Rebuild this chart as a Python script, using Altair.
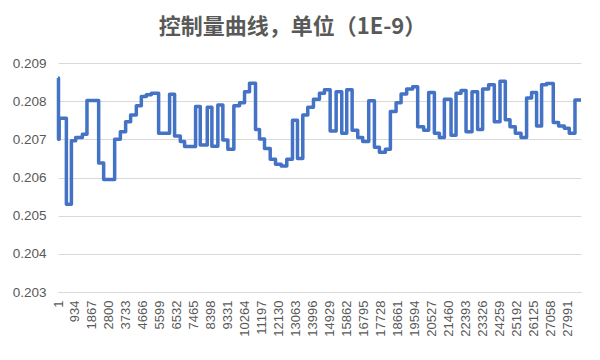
import altair as alt
import pandas as pd

# Step start index and level of each step
step_start = [1, 28, 67, 462, 737, 973, 1341, 1593, 2235, 2510,
              3114, 3427, 3718, 3992, 4305, 4580, 4854, 5129, 5530, 6133,
              6408, 6721, 6957, 7561, 7819, 8203, 8456, 8785, 9060, 9334,
              9664, 9976, 10251, 10525, 10855, 11074, 11349, 11662, 11953, 12266,
              12573, 12886, 13161, 13452, 13726, 14039, 14368, 14643, 14956, 15285,
              15593, 15867, 16164, 16471, 16745, 17075, 17388, 17662, 17992, 18266,
              18579, 18854, 19161, 19491, 19765, 20095, 20370, 20683, 20957, 21232,
              21599, 21874, 22148, 22423, 22752, 23059, 23334, 23664, 23977, 24290,
              24581, 24839, 25130, 25443, 25750, 26025, 26300, 26575, 26850, 27217,
              27508, 27821, 28096, 28409]
step_value = [0.20861, 0.20700, 0.20755, 0.20530, 0.20696, 0.20705, 0.20713, 0.20802, 0.20638, 0.20595,
              0.20700, 0.20720, 0.20746, 0.20764, 0.20788, 0.20812, 0.20817, 0.20821, 0.20716, 0.20818,
              0.20709, 0.20694, 0.20681, 0.20786, 0.20685, 0.20784, 0.20682, 0.20790, 0.20698, 0.20674,
              0.20788, 0.20796, 0.20825, 0.20847, 0.20726, 0.20701, 0.20676, 0.20648, 0.20635, 0.20630,
              0.20648, 0.20750, 0.20650, 0.20764, 0.20784, 0.20805, 0.20821, 0.20830, 0.20722, 0.20825,
              0.20716, 0.20830, 0.20724, 0.20705, 0.20694, 0.20801, 0.20679, 0.20666, 0.20674, 0.20773,
              0.20796, 0.20819, 0.20832, 0.20838, 0.20733, 0.20724, 0.20823, 0.20716, 0.20705, 0.20805,
              0.20711, 0.20821, 0.20828, 0.20720, 0.20825, 0.20726, 0.20832, 0.20843, 0.20746, 0.20852,
              0.20751, 0.20733, 0.20716, 0.20705, 0.20808, 0.20823, 0.20735, 0.20843, 0.20846, 0.20744,
              0.20735, 0.20729, 0.20716, 0.20803]
last_index = 28740
x_tick_labels = [1, 934, 1867, 2800, 3733, 4666, 5599, 6532, 7465, 8398, 9331,
                 10264, 11197, 12130, 13063, 13996, 14929, 15862, 16795, 17728,
                 18661, 19594, 20527, 21460, 22393, 23326, 24259, 25192, 26125,
                 27058, 27991]
y_ticks = [0.203, 0.204, 0.205, 0.206, 0.207, 0.208, 0.209]

df = pd.DataFrame({
    "idx": step_start + [last_index],
    "val": step_value + [step_value[-1]],
})

grey = "#595959"
label_font = "Liberation Sans"

chart = alt.Chart(df).mark_line(
    interpolate="step-after", color="#4472C4", strokeWidth=3.5, strokeJoin="round"
).encode(
    x=alt.X("idx:Q",
            scale=alt.Scale(domain=[1, last_index], nice=False, zero=False),
            axis=alt.Axis(values=x_tick_labels, labelAngle=-90, format="d",
                          grid=False, ticks=False, domainColor="#D9D9D9",
                          labelColor=grey, labelFontSize=13, labelFont=label_font,
                          labelPadding=8, labelOverlap=False, labelFlush=False,
                          title=None)),
    y=alt.Y("val:Q",
            scale=alt.Scale(domain=[0.203, 0.209], nice=False, zero=False),
            axis=alt.Axis(values=y_ticks, format=".3f", domain=False, ticks=False,
                          gridColor="#D9D9D9", labelColor=grey, labelFontSize=13.5,
                          labelFont=label_font, labelPadding=12, title=None)),
).properties(
    width=523, height=229,
    title=alt.TitleParams("控制量曲线，单位（1E-9）", font="Noto Sans CJK SC",
                          fontSize=22, fontWeight="bold", color=grey,
                          anchor="middle", dx=-27, offset=17),
    autosize=alt.AutoSizeParams(type="none"),
    padding={"left": 50, "top": 55, "right": 11, "bottom": 60},
).configure_view(stroke=None)

chart.save("out.html", embed_options={"renderer": "svg", "actions": False})
